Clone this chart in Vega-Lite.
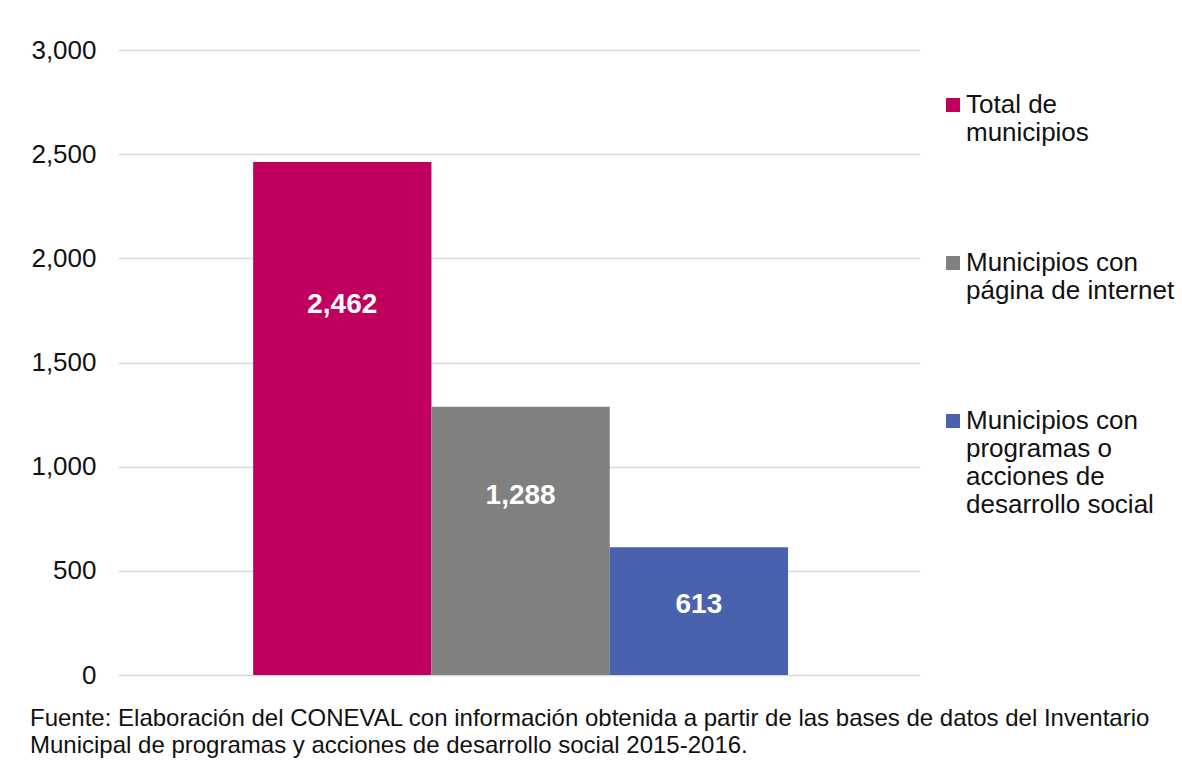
{
  "$schema": "https://vega.github.io/schema/vega-lite/v6.json",
  "width": 802,
  "height": 625,
  "autosize": "none",
  "padding": {"left": 118, "top": 50, "right": 262, "bottom": 87},
  "background": "white",
  "config": {
    "font": "Liberation Sans",
    "view": {"stroke": null}
  },
  "title": {
    "text": ["Fuente: Elaboración del CONEVAL con información obtenida a partir de las bases de datos del Inventario", "Municipal de programas y acciones de desarrollo social 2015-2016."],
    "orient": "bottom",
    "anchor": "start",
    "frame": "group",
    "dx": -88,
    "offset": 19,
    "fontSize": 24,
    "fontWeight": "normal",
    "lineHeight": 27,
    "color": "#111111",
    "font": "Liberation Sans"
  },
  "data": {
    "values": [
      {"serie": "Total de municipios", "value": 2462},
      {"serie": "Municipios con página de internet", "value": 1288},
      {"serie": "Municipios con programas o acciones de desarrollo social", "value": 613}
    ]
  },
  "encoding": {
    "x": {
      "field": "serie",
      "type": "nominal",
      "sort": null,
      "axis": null,
      "scale": {"paddingInner": 0, "paddingOuter": 0.749, "align": 0.506}
    }
  },
  "layer": [
    {
      "mark": {"type": "bar"},
      "encoding": {
        "y": {
          "field": "value",
          "type": "quantitative",
          "scale": {"domain": [0, 3000], "nice": false},
          "axis": {
            "values": [0, 500, 1000, 1500, 2000, 2500, 3000],
            "format": ",d",
            "title": null,
            "domain": false,
            "ticks": false,
            "labelFontSize": 26,
            "labelColor": "#111111",
            "labelPadding": 22,
            "gridColor": "#d9d9d9",
            "gridWidth": 1.5
          }
        },
        "color": {
          "field": "serie",
          "type": "nominal",
          "sort": null,
          "scale": {
            "domain": ["Total de municipios", "Municipios con página de internet", "Municipios con programas o acciones de desarrollo social"],
            "range": ["#c0005e", "#808080", "#4862ae"]
          },
          "legend": {
            "title": null,
            "orient": "none",
            "legendX": 822,
            "legendY": 42,
            "padding": 0,
            "symbolType": "square",
            "symbolSize": 196,
            "symbolStrokeWidth": 0,
            "labelFontSize": 26,
            "labelLimit": 0,
            "labelOffset": 0,
            "labelColor": "#111111",
            "labelBaseline": "middle",
            "labelLineHeight": 31,
            "rowPadding": 104,
            "labelExpr": "datum.label == 'Total de municipios' ? ['Total de', 'municipios'] : datum.label == 'Municipios con página de internet' ? ['Municipios con', 'página de internet'] : ['Municipios con', 'programas o', 'acciones de', 'desarrollo social']"
          }
        }
      }
    },
    {
      "mark": {"type": "text", "color": "white", "fontWeight": "bold", "fontSize": 28, "baseline": "middle", "dy": 30},
      "encoding": {
        "y": {
          "field": "value",
          "type": "quantitative",
          "scale": {"domain": [0, 3849], "nice": false, "zero": true},
          "axis": null
        },
        "text": {"field": "value", "type": "quantitative", "format": ","}
      }
    }
  ],
  "resolve": {"scale": {"y": "independent"}}
}
